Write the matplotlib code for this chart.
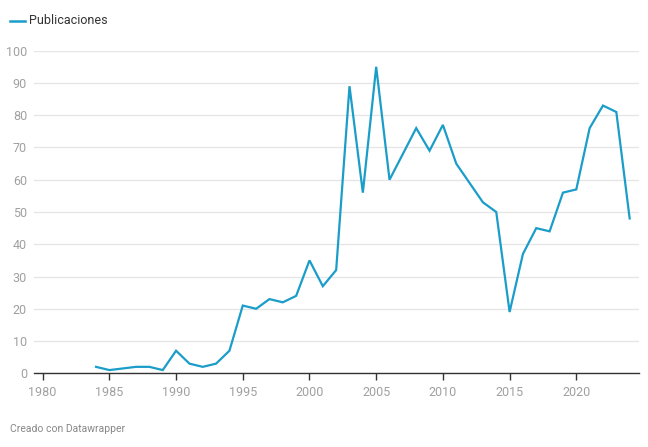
import matplotlib.pyplot as plt

plt.rcParams['font.family'] = ['Roboto', 'DejaVu Sans']

# publications per year
years = list(range(1984, 2025))
pubs = [2, 1, 1.5, 2, 2, 1, 7, 3, 2, 3, 7, 21, 20, 23, 22, 24, 35, 27, 32, 89,
        56, 95, 60, 68, 76, 69, 77, 65, 59, 53, 50, 19, 37, 45, 44, 56, 57, 76,
        83, 81, 48]
xticks = list(range(1980, 2021, 5))
yticks = list(range(0, 101, 10))

line_color = '#1b9dc9'
gray = '#a0a0a0'

fig = plt.figure(figsize=(6.48, 4.47), dpi=100)
ax = fig.add_axes([34 / 648, 1 - 373.3 / 447, 605 / 648, 322.6 / 447])

ax.plot(years, pubs, color=line_color, lw=1.6, solid_joinstyle='miter', clip_on=False, zorder=3)

ax.set_xlim(1979.35, 2024.7)
ax.set_ylim(0, 100)
ax.set_yticks(yticks)
ax.set_xticks(xticks)

for s in ['top', 'right', 'left']:
    ax.spines[s].set_visible(False)
ax.spines['bottom'].set_color('#333333')
ax.spines['bottom'].set_linewidth(1.0)
ax.spines['bottom'].set_zorder(4)

ax.grid(axis='y', color='#e6e6e6', lw=1.0)
ax.set_axisbelow(True)
ax.tick_params(axis='y', length=0, pad=5, labelsize=9, labelcolor=gray)
ax.tick_params(axis='x', length=5, width=1, color='#333333', pad=4, labelsize=9, labelcolor=gray)
for lab in ax.get_yticklabels():
    lab.set_horizontalalignment('right')

# legend
fig.lines.append(plt.Line2D([10 / 648, 25 / 648], [1 - 21 / 447, 1 - 21 / 447],
                            transform=fig.transFigure, color=line_color, lw=1.8))
fig.text(29 / 648, 1 - 21 / 447, 'Publicaciones', fontsize=9, color='#333333', va='center', ha='left')

fig.text(10 / 648, 1 - 429 / 447, 'Creado con Datawrapper', fontsize=7.5, color='#888888', va='center', ha='left')

fig.savefig('out.png', dpi=100, facecolor='white')
